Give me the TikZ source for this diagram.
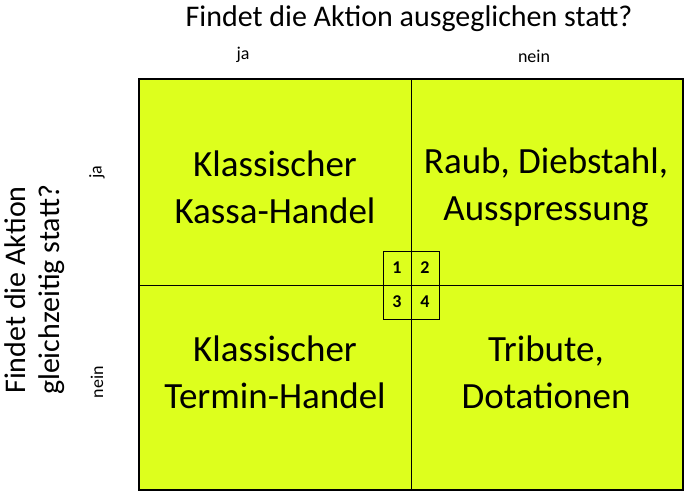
\documentclass[tikz,border=0pt]{standalone}
\usepackage{fontspec}
\setmainfont{Carlito}
\usetikzlibrary{matrix,positioning}
\definecolor{quadgreen}{RGB}{221,255,29}
\tikzset{
    framesty/.style={draw=black,line width=2pt,fill=quadgreen},
    splitsty/.style={draw=black,line width=0.8pt},
    quadtxtsty/.style={align=center,font=\fontsize{37}{47}\selectfont},
    headsty/.style={align=center,font=\fontsize{30}{34}\selectfont},
    yesnosty/.style={font=\fontsize{18}{20}\selectfont},
    numsty/.style={draw,fill=quadgreen,line width=0.8pt,rectangle,minimum width=28pt,minimum height=34pt,inner sep=0pt,anchor=center,font=\fontsize{18}{20}\selectfont\bfseries},
}

\begin{document}
\begin{tikzpicture}[x=1pt,y=-1pt]
  \useasboundingbox (0,0) rectangle (685,492);

  \coordinate (nw) at (139,79);
  \coordinate (se) at (683,490);
  \coordinate (mid) at (411,285);

  \draw[framesty] (nw) rectangle (se);
  \draw[splitsty] (mid |- nw) -- (mid |- se);
  \draw[splitsty] (mid -| nw) -- (mid -| se);

  \matrix (N) [matrix of nodes,
              nodes = {numsty},
              column sep = -0.8pt,
              row sep    = -0.8pt,
              ampersand replacement=\&] at (mid)
  {
  1 \& 2 \\
  3 \& 4 \\
  };

  % axis questions
  \node[headsty] (xq) at (409,19) {Findet die Aktion ausgeglichen statt?};
  \node[yesnosty] (xja) at (243,55) {ja};
  \node[yesnosty] (xnein) at (534,56) {nein};
  \node[headsty,rotate=90] (yq) at (35,290) {Findet die Aktion\\gleichzeitig statt?};
  \node[yesnosty,rotate=90] (yja) at (97,172) {ja};
  \node[yesnosty,rotate=90] (ynein) at (97,382) {nein};

  % quadrants
  \node[quadtxtsty] (kassa) at (275,187) {Klassischer\\Kassa-Handel};
  \node[quadtxtsty] (raub) at (546,187) {Raub, Diebstahl,\\Ausspressung};
  \node[quadtxtsty] (termin) at (275,372) {Klassischer\\Termin-Handel};
  \node[quadtxtsty] (tribut) at (546,372) {Tribute,\\Dotationen};
\end{tikzpicture}
\end{document}
